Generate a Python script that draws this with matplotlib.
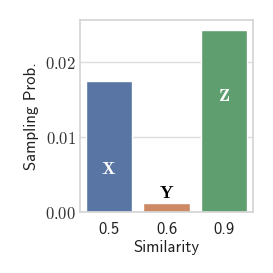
import numpy as np
import matplotlib
matplotlib.use('Agg')
import matplotlib.pyplot as plt
import seaborn as sns

similarity = ['0.5', '0.6', '0.9']
probs = [0.0174, 0.00127, 0.0243]
names = ['X', 'Y', 'Z']
label_y = [0.0057, 0.0025, 0.0155]
label_color = ['white', 'black', 'white']

sns.set_theme(style='whitegrid')
plt.rcParams['mathtext.fontset'] = 'cm'
plt.rcParams['axes.unicode_minus'] = False

fig = plt.figure(figsize=(2.73, 2.73), dpi=100)
ax = fig.add_axes([0.293, 0.223, 0.634, 0.704])

colors = sns.color_palette('deep', 3)
sns.barplot(x=similarity, y=probs, hue=similarity, palette=colors,
            legend=False, ax=ax, saturation=0.75)

for i, (n, yv, c) in enumerate(zip(names, label_y, label_color)):
    ax.text(i, yv, r'$\mathbf{%s}$' % n, ha='center', va='center',
            color=c, fontsize=13)

ax.set_yticks([0.0, 0.01, 0.02])
ax.set_yticklabels([r'$0.00$', r'$0.01$', r'$0.02$'], fontsize=12, color='#333333')
ax.set_xticks(range(3))
ax.set_xticklabels(similarity, fontsize=12, color='#222222', fontfamily='cmss10')
ax.set_xlabel('Similarity', fontsize=12, labelpad=2, fontfamily='cmss10', color='#222222')
ax.set_ylabel('Sampling Prob.', fontsize=12, fontfamily='cmss10', color='#222222')
ax.set_ylim(0, 0.0256)
ax.tick_params(axis='y', length=0, pad=3)
ax.tick_params(axis='x', length=0, pad=7)
ax.grid(axis='y', color='#dddddd', linewidth=1)
for s in ax.spines.values():
    s.set_color('#d5d5d5')

fig.savefig('out.png', dpi=100)
